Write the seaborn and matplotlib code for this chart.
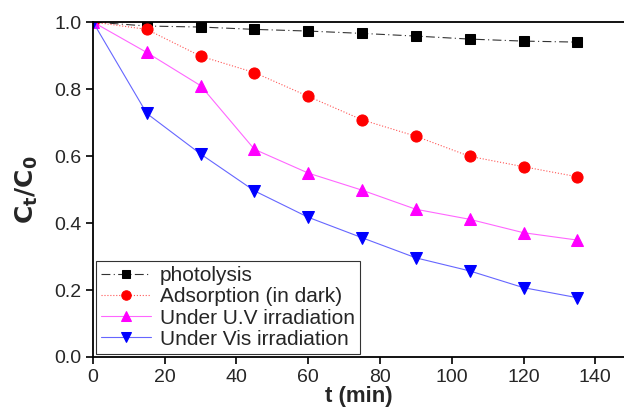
import matplotlib.pyplot as plt
import pandas as pd
import seaborn as sns

t = [0, 15, 30, 45, 60, 75, 90, 105, 120, 135]
photolysis = [1.0, 0.988, 0.985, 0.978, 0.973, 0.966, 0.958, 0.949, 0.943, 0.940]
adsorption = [1.0, 0.978, 0.898, 0.849, 0.778, 0.708, 0.659, 0.599, 0.568, 0.538]
uv = [1.0, 0.909, 0.810, 0.620, 0.549, 0.498, 0.441, 0.411, 0.371, 0.349]
vis = [1.0, 0.727, 0.606, 0.496, 0.417, 0.356, 0.296, 0.257, 0.207, 0.177]
labels = ['photolysis', 'Adsorption (in dark)', 'Under U.V irradiation', 'Under Vis irradiation']

sns.set_style('ticks')
plt.rcParams['font.family'] = ['Liberation Sans', 'DejaVu Sans']

fig = plt.figure(figsize=(6.24, 4.13), dpi=100)
ax = fig.add_axes([0.149, 0.1356, 0.851, 0.8111])

styles = [
    dict(color='black', marker='s', linestyle=(0, (8, 3, 1, 3)), markersize=7),
    dict(color='red', marker='o', linestyle=':', markersize=8),
    dict(color='magenta', marker='^', linestyle='-', markersize=8),
    dict(color='blue', marker='v', linestyle='-', markersize=8),
]
line_colors = ['#333333', '#ff5555', '#ff66ff', '#6666ff']

for vals, lab, st, lc in zip([photolysis, adsorption, uv, vis], labels, styles, line_colors):
    df = pd.DataFrame({'t': t, 'c': vals})
    sns.lineplot(data=df, x='t', y='c', ax=ax, label=lab, color=lc,
                 linestyle=st['linestyle'], linewidth=0.8,
                 marker=st['marker'], markersize=st['markersize'],
                 markerfacecolor=st['color'], markeredgecolor=st['color'])

ax.set_xlim(0, 148)
ax.set_ylim(0, 1.0)
ax.set_xticks(range(0, 141, 20))
ax.set_yticks([0.0, 0.2, 0.4, 0.6, 0.8, 1.0])
ax.set_yticklabels(['0.0', '0.2', '0.4', '0.6', '0.8', '1.0'])
ax.tick_params(labelsize=14, direction='out', length=5, width=1.2, color='black')
for s in ['left', 'bottom', 'top']:
    ax.spines[s].set_linewidth(1.3)
    ax.spines[s].set_color('black')
ax.spines['right'].set_visible(False)

ax.set_xlabel('t (min)', fontsize=16, fontweight='bold', labelpad=0)
ax.set_ylabel(r'$\mathbf{C_t/C_0}$', fontsize=18, labelpad=10)

leg = ax.legend(loc='lower left', fontsize=15, frameon=True, fancybox=False,
                borderaxespad=0.15, handlelength=2.4, labelspacing=0.1,
                borderpad=0.25, handletextpad=0.4, markerscale=0.85)
leg.get_frame().set_edgecolor('black')
leg.get_frame().set_linewidth(0.8)

fig.savefig('out.png', dpi=100)
